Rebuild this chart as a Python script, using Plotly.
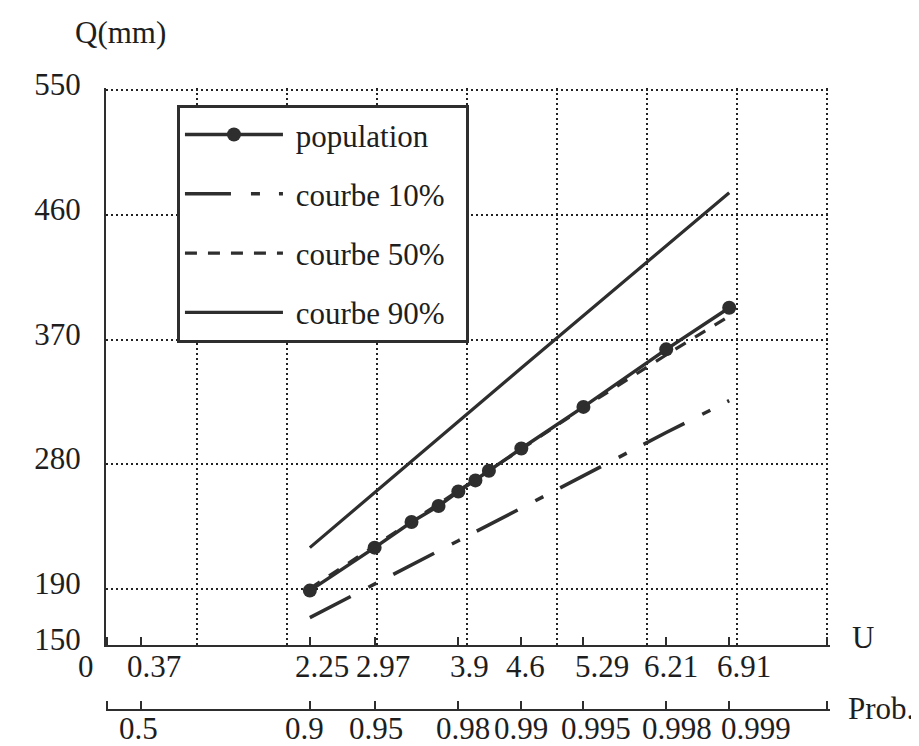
import plotly.graph_objects as go

# ---- data ----
U_TICKS = [0, 0.37, 2.25, 2.97, 3.9, 4.6, 5.29, 6.21, 6.91]
U_TICK_TEXT = ["0", "0.37", "2.25", "2.97", "3.9", "4.6", "5.29", "6.21", "6.91"]
PROB_TICK_TEXT = ["", "0.5", "0.9", "0.95", "0.98", "0.99", "0.995", "0.998", "0.999"]
U_END = 8
GRID_U = [1, 2, 3, 4, 5, 6, 7, 8]
Q_TICKS = [150, 190, 280, 370, 460, 550]
Q_TICK_TEXT = ["150", "190", "280", "370", "460", "550"]

u_pop = [2.25, 2.97, 3.38, 3.68, 3.90, 4.09, 4.24, 4.60, 5.29, 6.21, 6.91]
q_pop = [189, 220, 238.5, 250, 260.5, 268.5, 275.5, 291.5, 321.5, 363, 393]

u_curve = [2.25, 2.97, 3.9, 4.6, 5.29, 6.21, 6.91]
q10 = [169.5, 194, 225, 248.5, 272, 303, 326]
q50 = [190.5, 221, 261, 291, 321, 359, 387]
q90 = [220, 260, 311, 349.5, 387.5, 438, 476]

SERIES_NAMES = ["population", "courbe 10%", "courbe 50%", "courbe 90%"]

# ---- styling ----
INK = "#2e2e2e"
TXT = "#1e1e1e"
FONT = "Liberation Serif, Times New Roman, serif"
FS = 31
XR = [-0.015, 8.03]
YR = [150, 551.5]
NBSP = "\u00a0"
# horizontal pixel offsets of the tick labels, as typeset in the original
SHIFT_U = [-21, 13, 12, 8, 11, 4, 19, 5, 15]
SHIFT_P = [0, -2, -5, 1, 5, 0, 13, 11, 27]
Y_U_LABELS = 0.070     # paper y of the U label row centre
Y_P_LABELS = -0.029    # paper y of the Prob label row centre


def legend_name(name):
    return NBSP + name + NBSP * 2


fig = go.Figure()

fig.add_trace(go.Scatter(x=u_pop, y=q_pop, mode="lines+markers", name=legend_name(SERIES_NAMES[0]),
                         line=dict(color=INK, width=3.5),
                         marker=dict(symbol="circle", size=14, color=INK),
                         legendgroup="a"))
fig.add_trace(go.Scatter(x=u_curve, y=q10, mode="lines", name=legend_name(SERIES_NAMES[1]),
                         line=dict(color=INK, width=3.5, dash="46px,20px,9px,19px"),
                         legendgroup="b"))
fig.add_trace(go.Scatter(x=u_curve, y=q50, mode="lines", name=legend_name(SERIES_NAMES[2]),
                         line=dict(color=INK, width=3.2, dash="12px,11px"),
                         legendgroup="c"))
fig.add_trace(go.Scatter(x=u_curve, y=q90, mode="lines", name=legend_name(SERIES_NAMES[3]),
                         line=dict(color=INK, width=3.2),
                         legendgroup="d"))

# dummy traces to activate the extra axes
fig.add_trace(go.Scatter(x=[XR[0], XR[1]], y=[None, None], xaxis="x2", yaxis="y",
                         mode="lines", showlegend=False, hoverinfo="skip"))
fig.add_trace(go.Scatter(x=[XR[0], XR[1]], y=[None, None], xaxis="x3", yaxis="y",
                         mode="lines", showlegend=False, hoverinfo="skip"))

tick_font = dict(family=FONT, size=FS, color=TXT)
axis_ticks = U_TICKS + [U_END]

annotations = [
    dict(text="Q(mm)", xref="paper", yref="paper", x=-0.0456, y=1.09,
         xanchor="left", yanchor="middle", showarrow=False, font=tick_font),
    dict(text="U", xref="paper", yref="paper", x=1.027, y=0.116,
         xanchor="left", yanchor="middle", showarrow=False, font=tick_font),
    dict(text="Prob.", xref="paper", yref="paper", x=1.022, y=0.002,
         xanchor="left", yanchor="middle", showarrow=False, font=tick_font),
]
for u, lab, dx in zip(U_TICKS, U_TICK_TEXT, SHIFT_U):
    if lab:
        annotations.append(dict(text=lab, xref="x", yref="paper", x=u, y=Y_U_LABELS,
                                xshift=dx, xanchor="center", yanchor="middle",
                                showarrow=False, font=tick_font))
for u, lab, dx in zip(U_TICKS, PROB_TICK_TEXT, SHIFT_P):
    if lab:
        annotations.append(dict(text=lab, xref="x", yref="paper", x=u, y=Y_P_LABELS,
                                xshift=dx, xanchor="center", yanchor="middle",
                                showarrow=False, font=tick_font))

fig.update_layout(
    width=911, height=738,
    margin=dict(l=98, r=89, t=80, b=36, autoexpand=False),
    paper_bgcolor="white", plot_bgcolor="white",
    font=dict(family=FONT, size=FS, color=TXT),
    xaxis=dict(range=XR, tickvals=GRID_U, showticklabels=False, ticks="",
               showgrid=True, gridcolor="#222", gridwidth=1.8, griddash="2px,3px",
               zeroline=False, showline=False, anchor="y", automargin=False),
    xaxis2=dict(range=XR, overlaying="x", anchor="y", side="bottom",
                tickvals=axis_ticks, showticklabels=False,
                ticks="inside", ticklen=8, tickwidth=1.5, tickcolor=INK,
                showgrid=False, zeroline=False, showline=True, linecolor=INK,
                linewidth=2.2, automargin=False),
    xaxis3=dict(range=XR, overlaying="x", anchor="free", position=0, side="bottom",
                tickvals=axis_ticks, showticklabels=False,
                ticks="inside", ticklen=8, tickwidth=1.5, tickcolor=INK,
                showgrid=False, zeroline=False, showline=True, linecolor=INK,
                linewidth=2.2, automargin=False),
    yaxis=dict(range=YR, domain=[0.105, 1], tickvals=Q_TICKS, ticktext=Q_TICK_TEXT,
               ticks="", showgrid=True, gridcolor="#222", gridwidth=1.8,
               griddash="2px,3px", zeroline=False, showline=True, linecolor=INK,
               linewidth=2.2, ticklabelstandoff=17, ticklabelshift=-6,
               automargin=False, tickfont=tick_font),
    legend=dict(x=0.098, y=0.973, xanchor="left", yanchor="top",
                bgcolor="white", bordercolor=INK, borderwidth=3,
                font=dict(family=FONT, size=FS, color=TXT),
                itemwidth=98, tracegroupgap=16, traceorder="grouped"),
    showlegend=True,
    annotations=annotations,
)

fig.write_html("out.html")
